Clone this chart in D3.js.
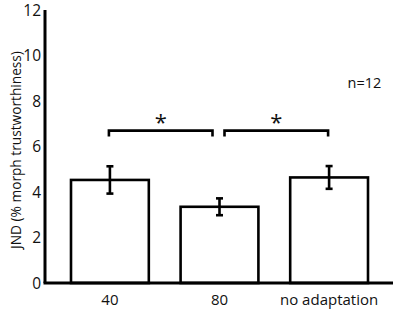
<!DOCTYPE html>
<html>
<head>
<meta charset="utf-8">
<script src="https://cdn.jsdelivr.net/npm/d3@7"></script>
<style>
  body { margin: 0; background: #fff; }
  text { font-family: "Open Sans", sans-serif; fill: #111; }
</style>
</head>
<body>
<div id="chart"></div>
<script>
const categories = ["40", "80", "no adaptation"];
const means = [4.53, 3.35, 4.64];
const errors = [0.6, 0.37, 0.5];
const yTicks = [0, 2, 4, 6, 8, 10, 12];
// significance brackets: [from index, to index, height]
const brackets = [[0, 1, 6.7], [1, 2, 6.7]];

const width = 397, height = 310;
const margin = { top: 10, right: 4, bottom: 27, left: 45 };

const svg = d3.select("#chart").append("svg")
  .attr("width", width)
  .attr("height", height);

const x = d3.scaleBand()
  .domain(categories)
  .range([71, 368])
  .paddingInner(0.29)
  .paddingOuter(0);

const y = d3.scaleLinear()
  .domain([0, 12])
  .range([height - margin.bottom, margin.top]);

const cx = (i) => x(categories[i]) + x.bandwidth() / 2;

// bars
svg.selectAll("rect.bar")
  .data(means)
  .join("rect")
  .attr("class", "bar")
  .attr("x", (d, i) => x(categories[i]))
  .attr("y", (d) => y(d))
  .attr("width", x.bandwidth())
  .attr("height", (d) => y(0) - y(d))
  .attr("fill", "#fff")
  .attr("stroke", "#000")
  .attr("stroke-width", 2.6);

// error bars
const eb = svg.selectAll("g.err")
  .data(means)
  .join("g")
  .attr("class", "err")
  .attr("stroke", "#000")
  .attr("stroke-width", 2.6);

eb.append("line")
  .attr("x1", (d, i) => cx(i)).attr("x2", (d, i) => cx(i))
  .attr("y1", (d, i) => y(d + errors[i]))
  .attr("y2", (d, i) => y(d - errors[i]));
eb.append("line")
  .attr("x1", (d, i) => cx(i) - 3.5).attr("x2", (d, i) => cx(i) + 3.5)
  .attr("y1", (d, i) => y(d + errors[i]))
  .attr("y2", (d, i) => y(d + errors[i]));
eb.append("line")
  .attr("x1", (d, i) => cx(i) - 3.5).attr("x2", (d, i) => cx(i) + 3.5)
  .attr("y1", (d, i) => y(d - errors[i]))
  .attr("y2", (d, i) => y(d - errors[i]));

// axes (no tick marks)
svg.append("line")
  .attr("x1", margin.left).attr("x2", margin.left)
  .attr("y1", y(12)).attr("y2", y(0))
  .attr("stroke", "#000").attr("stroke-width", 3);
svg.append("line")
  .attr("x1", margin.left - 1.5).attr("x2", width - margin.right)
  .attr("y1", y(0)).attr("y2", y(0))
  .attr("stroke", "#000").attr("stroke-width", 3);

svg.selectAll("text.ytick")
  .data(yTicks)
  .join("text")
  .attr("class", "ytick")
  .attr("x", margin.left - 4)
  .attr("y", (d) => y(d) + 5.5)
  .attr("text-anchor", "end")
  .style("font-size", "15.5px")
  .text((d) => d);

svg.selectAll("text.xtick")
  .data(categories)
  .join("text")
  .attr("class", "xtick")
  .attr("x", (d, i) => cx(i))
  .attr("y", y(0) + 22)
  .attr("text-anchor", "middle")
  .style("font-size", "15px")
  .text((d) => d);

svg.append("text")
  .attr("transform", "translate(21,150) rotate(-90)")
  .attr("text-anchor", "middle")
  .style("font-size", "13.7px")
  .text("JND (% morph trustworthiness)");

svg.append("text")
  .attr("x", 364.5)
  .attr("y", 88)
  .attr("text-anchor", "middle")
  .style("font-size", "14.5px")
  .text("n=12");

// significance brackets
brackets.forEach(([a, b, h], k) => {
  const x1 = cx(a) + (k === 0 ? -1 : 5);
  const x2 = cx(b) + (k === 0 ? -7 : -1);
  svg.append("path")
    .attr("d", `M${x1},${y(h) + 6}V${y(h)}H${x2}V${y(h) + 6}`)
    .attr("fill", "none")
    .attr("stroke", "#000")
    .attr("stroke-width", 2.6);
  svg.append("text")
    .attr("x", (x1 + x2) / 2)
    .attr("y", y(h) - 1)
    .attr("text-anchor", "middle")
    .style("font-size", "22px")
    .text("*");
});
</script>
</body>
</html>
